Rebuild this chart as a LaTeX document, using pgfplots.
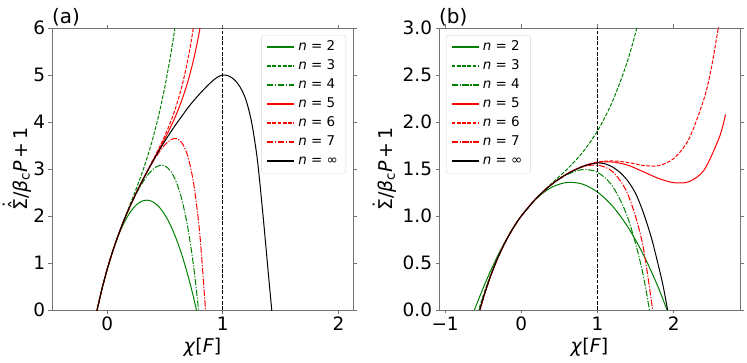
\documentclass[border=0pt]{standalone}
\usepackage{fontspec}
\setmainfont{DejaVu Sans}[ItalicFont={DejaVu Sans Oblique}]
\usepackage{pgfplots}
\pgfplotsset{compat=1.18}
\definecolor{mgreen}{HTML}{008000}
\definecolor{mred}{HTML}{FF0000}

% Sigma with hat and dot, Sigma with dot
\newcommand{\SigHD}{\ooalign{Σ\cr\hidewidth\raisebox{0.2em}{ˆ}\hidewidth\cr\hidewidth\raisebox{0.5em}{˙}\hidewidth\cr}}
\newcommand{\SigD}{\ooalign{Σ\cr\hidewidth\raisebox{0.28em}{˙}\hidewidth\cr}}

\pgfplotsset{
  panel/.style={
    scale only axis, width=301bp, height=282bp,
    anchor=south west, clip mode=individual,
    axis line style={black!55, line width=0.8bp},
    tick align=outside, major tick length=3.5bp,
    tick style={black!55, line width=0.8bp},
    ymin=0,
    every tick label/.append style={font=\fontsize{18.5}{20}\selectfont},
    xlabel style={font=\fontsize{19}{22}\selectfont},
    legend cell align=left,
    legend style={font=\fontsize{13.5}{15}\selectfont, draw=black!15, rounded corners=2bp,
      fill=white, row sep=6bp, inner xsep=4.5bp, inner ysep=5.5bp,
      nodes={inner xsep=3.5bp, inner ysep=0bp, text height=9.5bp, text depth=3.5bp}},
    legend image code/.code={\draw[line width=1.6bp, ##1] (0bp,0bp) -- (27bp,0bp);},
  },
  ds/.style={dash pattern=on 3.7bp off 1.6bp},
  dd/.style={dash pattern=on 6.4bp off 1.6bp on 1.2bp off 1.6bp},
}

\begin{document}
\begin{tikzpicture}
\useasboundingbox (0,0) rectangle (747bp,363bp);

% ---------- panel (a)
\begin{axis}[panel, at={(52bp,53bp)},
  xmin=-0.478, xmax=2.126, ymax=6,
  xtick={0,1,2}, xticklabels={0,1,2},
  ytick={0,1,2,3,4,5,6}, yticklabels={0,1,2,3,4,5,6},
  xlabel={\textit{χ}[\textit{F}]},
  ylabel={\SigHD/\textit{β}\textsubscript{c}\textit{P}\,+\,1},
  ylabel style={at={(axis description cs:-0.083,0.5)}, anchor=base, rotate=0, font=\fontsize{19}{22}\selectfont},
  legend style={at={(rel axis cs:1,1)}, anchor=north east, xshift=-7bp, yshift=-7bp},
]
\addplot[draw=mgreen, line width=1bp, smooth] coordinates {
(-0.1,-0.116) (-0.05,0.4085) (0,0.87) (0.05,1.2685) (0.1,1.604) (0.15,1.8765)
(0.2,2.086) (0.25,2.2325) (0.3,2.316) (0.35,2.3365) (0.4,2.294) (0.45,2.1885)
(0.5,2.02) (0.55,1.7885) (0.6,1.494) (0.65,1.1365) (0.7,0.716) (0.75,0.2325) (0.8,-0.314)};
\addlegendentry{\textit{n} = 2}
\addplot[draw=mgreen, line width=1bp, smooth, ds] coordinates {
(-0.1,-0.138) (-0.05,0.406) (0,0.87) (0.05,1.271) (0.1,1.626) (0.15,1.951)
(0.2,2.262) (0.25,2.576) (0.3,2.910) (0.35,3.280) (0.4,3.702) (0.45,4.193)
(0.5,4.77) (0.55,5.449) (0.6,6.246) (0.65,7.178)};
\addlegendentry{\textit{n} = 3}
\addplot[draw=mgreen, line width=1bp, smooth, dd] coordinates {
(-0.1,-0.14) (-0.05,0.406) (0,0.87) (0.05,1.271) (0.1,1.623) (0.15,1.937)
(0.2,2.218) (0.25,2.469) (0.3,2.689) (0.35,2.870) (0.4,3.003) (0.45,3.074)
(0.5,3.064) (0.55,2.951) (0.6,2.708) (0.65,2.305) (0.7,1.707) (0.75,0.876) (0.8,-0.232)};
\addlegendentry{\textit{n} = 4}
\addplot[draw=mred, line width=1bp, smooth] coordinates {
(-0.1,-0.14) (-0.05,0.406) (0,0.87) (0.05,1.271) (0.1,1.623) (0.15,1.938)
(0.2,2.224) (0.25,2.487) (0.3,2.735) (0.35,2.969) (0.4,3.197) (0.45,3.423)
(0.5,3.655) (0.55,3.902) (0.6,4.178) (0.65,4.498) (0.7,4.884) (0.75,5.361)
(0.8,5.961) (0.85,6.722)};
\addlegendentry{\textit{n} = 5}
\addplot[draw=mred, line width=1bp, smooth, ds] coordinates {
(-0.1,-0.14) (-0.05,0.406) (0,0.87) (0.05,1.271) (0.1,1.623) (0.15,1.938)
(0.2,2.224) (0.25,2.487) (0.3,2.738) (0.35,2.976) (0.4,3.214) (0.45,3.457)
(0.5,3.718) (0.55,4.014) (0.6,4.367) (0.65,4.803) (0.7,5.361) (0.75,6.082) (0.8,7.023)};
\addlegendentry{\textit{n} = 6}
\addplot[draw=mred, line width=1bp, smooth, dd] coordinates {
(-0.1,-0.14) (-0.05,0.406) (0,0.87) (0.05,1.271) (0.1,1.623) (0.15,1.938)
(0.2,2.224) (0.25,2.487) (0.3,2.732) (0.35,2.959) (0.4,3.172) (0.45,3.361)
(0.5,3.517) (0.55,3.623) (0.6,3.648) (0.65,3.543) (0.7,3.245) (0.75,2.651)
(0.8,1.633) (0.85,0.011) (0.87,-0.7)};
\addlegendentry{\textit{n} = 7}
\addplot[draw=black, line width=1bp, smooth] coordinates {
(-0.1,-0.14) (-0.05,0.406) (0,0.87) (0.05,1.271) (0.1,1.624) (0.15,1.94)
(0.2,2.224) (0.25,2.487) (0.3,2.734) (0.35,2.965) (0.4,3.19) (0.45,3.40)
(0.5,3.6) (0.55,3.79) (0.6,3.97) (0.65,4.14) (0.7,4.31) (0.75,4.46) (0.8,4.6)
(0.85,4.73) (0.9,4.85) (0.95,4.95) (1.0,5.0) (1.05,4.98) (1.1,4.90) (1.15,4.74)
(1.2,4.47) (1.25,3.98) (1.3,3.17) (1.35,1.95) (1.4,0.6) (1.423,0) (1.44,-0.5)};
\addlegendentry{\textit{n} = ∞}
\addplot[draw=black, line width=1bp, ds, forget plot] coordinates {(1,0) (1,6)};
\node[anchor=south west, inner sep=0pt, yshift=2bp, font=\fontsize{20}{22}\selectfont] at (rel axis cs:0,1) {(a)};
\end{axis}

% ---------- panel (b)
\begin{axis}[panel, at={(439bp,53bp)},
  xmin=-1.08, xmax=2.87, ymax=3,
  xtick={-1,0,1,2}, xticklabels={−1,0,1,2},
  ytick={0,0.5,1,1.5,2,2.5,3}, yticklabels={0.0,0.5,1.0,1.5,2.0,2.5,3.0},
  xlabel={\textit{χ}[\textit{F}]},
  ylabel={\SigD/\textit{β}\textsubscript{c}\textit{P}\,+\,1},
  ylabel style={at={(axis description cs:-0.155,0.5)}, anchor=base, rotate=0, font=\fontsize{19}{22}\selectfont},
  legend style={at={(rel axis cs:0,1)}, anchor=north west, xshift=7bp, yshift=-7bp},
]
\addplot[draw=mgreen, line width=1bp, smooth] coordinates {
(-0.7,-0.19) (-0.6,0.031) (-0.5,0.235) (-0.4,0.422) (-0.3,0.592) (-0.2,0.745)
(-0.1,0.881) (0,1) (0.2,1.187) (0.4,1.306) (0.6,1.357) (0.8,1.340) (1.0,1.255)
(1.2,1.102) (1.4,0.881) (1.6,0.592) (1.8,0.235) (2.0,-0.19)};
\addlegendentry{\textit{n} = 2}
\addplot[draw=mgreen, line width=1bp, smooth, ds] coordinates {
(-0.7,-0.413) (-0.6,-0.109) (-0.5,0.154) (-0.4,0.380) (-0.3,0.574) (-0.2,0.740)
(-0.1,0.880) (0,1) (0.2,1.192) (0.4,1.348) (0.6,1.497) (0.8,1.673) (1.0,1.905)
(1.2,2.225) (1.4,2.665) (1.6,3.254)};
\addlegendentry{\textit{n} = 3}
\addplot[draw=mgreen, line width=1bp, smooth, dd] coordinates {
(-0.7,-0.519) (-0.6,-0.166) (-0.5,0.1265) (-0.4,0.369) (-0.3,0.570) (-0.2,0.739)
(-0.1,0.880) (0,1) (0.2,1.191) (0.4,1.337) (0.6,1.440) (0.8,1.493) (1.0,1.465)
(1.2,1.313) (1.4,0.975) (1.6,0.370) (1.8,-0.593)};
\addlegendentry{\textit{n} = 4}
\addplot[draw=mred, line width=1bp, smooth] coordinates {
(-0.6,-0.174) (-0.5,0.123) (-0.4,0.368) (-0.3,0.570) (-0.2,0.739) (-0.1,0.880)
(0,1) (0.2,1.191) (0.4,1.338) (0.6,1.448) (0.8,1.527) (1.0,1.570) (1.2,1.574)
(1.4,1.540) (1.6,1.471) (1.8,1.40) (2.0,1.355) (2.2,1.365) (2.4,1.49) (2.6,1.84) (2.68,2.08)};
\addlegendentry{\textit{n} = 5}
\addplot[draw=mred, line width=1bp, smooth, ds] coordinates {
(-0.6,-0.174) (-0.5,0.123) (-0.4,0.368) (-0.3,0.570) (-0.2,0.739) (-0.1,0.880)
(0,1) (0.2,1.191) (0.4,1.338) (0.6,1.448) (0.8,1.528) (1.0,1.574) (1.2,1.586)
(1.4,1.570) (1.6,1.538) (1.8,1.536) (2.0,1.611) (2.2,1.82) (2.4,2.254) (2.5,2.60) (2.6,3.076)};
\addlegendentry{\textit{n} = 6}
\addplot[draw=mred, line width=1bp, smooth, dd] coordinates {
(-0.6,-0.173) (-0.5,0.123) (-0.4,0.368) (-0.3,0.570) (-0.2,0.739) (-0.1,0.880)
(0,1) (0.2,1.191) (0.4,1.338) (0.6,1.447) (0.8,1.521) (1.0,1.5415) (1.2,1.47)
(1.4,1.227) (1.6,0.666) (1.8,-0.454)};
\addlegendentry{\textit{n} = 7}
\addplot[draw=black, line width=1bp, smooth] coordinates {
(-0.6,-0.17) (-0.545,0) (-0.5,0.124) (-0.4,0.368) (-0.3,0.570) (-0.2,0.739)
(-0.1,0.880) (0,1) (0.2,1.191) (0.4,1.338) (0.6,1.447) (0.8,1.525) (0.9,1.55)
(1.0,1.565) (1.1,1.555) (1.2,1.52) (1.3,1.46) (1.4,1.37) (1.5,1.24) (1.6,1.04)
(1.71,0.76) (1.8,0.47) (1.86,0.26) (1.92,0) (1.95,-0.15)};
\addlegendentry{\textit{n} = ∞}
\addplot[draw=black, line width=1bp, ds, forget plot] coordinates {(1,0) (1,3)};
\node[anchor=south west, inner sep=0pt, yshift=2bp, font=\fontsize{20}{22}\selectfont] at (rel axis cs:0,1) {(b)};
\end{axis}
\end{tikzpicture}
\end{document}
